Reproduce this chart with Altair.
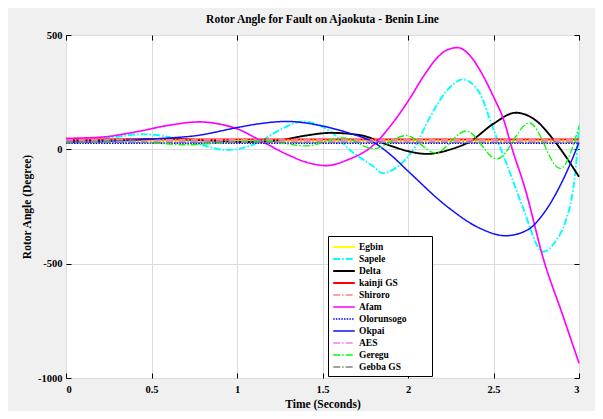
import altair as alt
import pandas as pd

# ---- data ----
names = ["Egbin", "Sapele", "Delta", "kainji GS", "Shiroro", "Afam",
         "Olorunsogo", "Okpai", "AES", "Geregu", "Gebba GS"]

egbin_t = [0, 3]
egbin_v = [38, 38]

sapele_t = [0, 0.2, 0.45, 0.7, 0.94, 1.13, 1.25, 1.38, 1.56, 1.66, 1.8, 1.85, 1.95, 2.03,
            2.13, 2.23, 2.32, 2.42, 2.48, 2.53, 2.6, 2.67, 2.79, 2.86, 2.92, 2.96, 2.985, 3.0]
sapele_v = [30, 45, 66, 40, -3, 32, 85, 121, 71, -3, -76, -104, -69, -3,
            143, 259, 306, 245, 128, 27, -110, -251, -448, -405, -317, -200, -50, 105]

delta_t = [0, 0.3, 0.6, 0.85, 1.05, 1.25, 1.4, 1.55, 1.72, 1.9, 2.0, 2.11, 2.25, 2.36,
           2.5, 2.63, 2.75, 2.86, 3.0]
delta_v = [36, 42, 45, 38, 32, 40, 60, 72, 62, 15, -8, -20, 0, 33,
           112, 160, 125, 33, -120]

kainji_t = [0, 3]
kainji_v = [44, 44]

shiroro_t = [0, 3]
shiroro_v = [41, 41]

afam_t = [0, 0.2, 0.4, 0.6, 0.78, 0.9, 1.0, 1.15, 1.3, 1.4, 1.52, 1.65, 1.8, 1.9, 2.0,
          2.1, 2.17, 2.23, 2.29, 2.35, 2.42, 2.5, 2.56, 2.61, 2.68, 2.8, 2.9, 3.0]
afam_v = [48, 53, 75, 105, 120, 110, 90, 33, -25, -55, -71, -45, 20, 105, 210,
          330, 400, 435, 445, 420, 347, 230, 128, 0, -160, -500, -715, -935]

olorunsogo_t = [0, 3]
olorunsogo_v = [27, 27]

okpai_t = [0, 0.25, 0.5, 0.78, 1.0, 1.13, 1.29, 1.5, 1.66, 1.8, 1.9, 2.0, 2.23, 2.42,
           2.57, 2.7, 2.8, 2.92, 3.0]
okpai_v = [29, 35, 45, 62, 95, 112, 122, 102, 70, 30, -25, -95, -251, -345,
           -378, -352, -273, -112, 30]

aes_t = [0, 3]
aes_v = [36, 36]

geregu_t = [0, 0.2, 0.45, 0.7, 0.95, 1.15, 1.4, 1.62, 1.8, 1.99, 2.16, 2.34, 2.52,
            2.71, 2.89, 3.0]
geregu_v = [28, 32, 30, 20, 30, 38, 15, 50, 3, 60, -15, 80, -42, 115, -84, 100]

gebba_t = [0, 3]
gebba_v = [30, 30]

x_ticks = [0, 0.5, 1, 1.5, 2, 2.5, 3]
y_ticks = [-1000, -500, 0, 500]

series = [
    ("Egbin", egbin_t, egbin_v), ("Sapele", sapele_t, sapele_v),
    ("Delta", delta_t, delta_v), ("kainji GS", kainji_t, kainji_v),
    ("Shiroro", shiroro_t, shiroro_v), ("Afam", afam_t, afam_v),
    ("Olorunsogo", olorunsogo_t, olorunsogo_v), ("Okpai", okpai_t, okpai_v),
    ("AES", aes_t, aes_v), ("Geregu", geregu_t, geregu_v),
    ("Gebba GS", gebba_t, gebba_v),
]

rows = []
for name, ts, vs in series:
    for t, v in zip(ts, vs):
        rows.append({"series": name, "t": t, "v": v})
df = pd.DataFrame(rows)

# ---- styles ----
colors = ["#ffff00", "#00ffff", "#000000", "#ff0000", "#ff8080", "#ff00ff",
          "#0000ff", "#1010ff", "#ee82ee", "#00ff00", "#808080"]
dashdot = [7, 2, 1.5, 2]
dashes = [[1, 0], dashdot, [1, 0], [1, 0], dashdot, [1, 0],
          [1.5, 1.2], [1, 0], dashdot, dashdot, dashdot]
widths = [2, 1.3, 1.2, 1.5, 1.2, 1.3, 3, 1.3, 1.2, 1.3, 1.2]

FONT = "Liberation Serif"
PAD = "\u2800" * 3

leg = alt.Legend(
    title=None, orient="none", legendX=262, legendY=201,
    fillColor="white", strokeColor="black", padding=4,
    symbolType="M-1.8,0H1.8", symbolSize=144, symbolStrokeWidth=1.5,
    symbolOffset=5,
    labelFont=FONT, labelFontWeight="bold", labelFontSize=9.5,
    labelColor="black", labelOffset=8, rowPadding=0, labelLimit=300,
    labelExpr="datum.label + '" + PAD + "'",
)

xscale = alt.Scale(domain=[0, 3], nice=False)
yscale = alt.Scale(domain=[-1000, 500], nice=False)

lines = alt.Chart(df).mark_line(interpolate="monotone").encode(
    x=alt.X("t:Q", scale=xscale, axis=alt.Axis(
        orient="bottom", values=x_ticks, title="Time (Seconds)", grid=True,
        ticks=False, domain=False, labelPadding=6, titlePadding=4,
        labelExpr="datum.value + ''")),
    y=alt.Y("v:Q", scale=yscale, axis=alt.Axis(
        orient="left", values=y_ticks, title="Rotor Angle (Degree)", grid=True,
        ticks=False, domain=False, labelPadding=4, titlePadding=5,
        labelExpr="datum.value + ''")),
    color=alt.Color("series:N", scale=alt.Scale(domain=names, range=colors), legend=leg),
    strokeDash=alt.StrokeDash("series:N", scale=alt.Scale(domain=names, range=dashes), legend=leg),
    strokeWidth=alt.StrokeWidth("series:N", scale=alt.Scale(domain=names, range=widths), legend=None),
    detail="series:N",
)

ticks_bl = alt.Chart(df).mark_point(opacity=0).encode(
    x=alt.X("t:Q", scale=xscale, axis=alt.Axis(orient="bottom", offset=-5, tickSize=5, labels=False,
            domain=False, grid=False, title=None, tickColor="black", values=x_ticks)),
    y=alt.Y("v:Q", scale=yscale, axis=alt.Axis(orient="left", offset=-5, tickSize=5, labels=False,
            domain=False, grid=False, title=None, tickColor="black", values=y_ticks)),
)
ticks_tr = alt.Chart(df).mark_point(opacity=0).encode(
    x=alt.X("t:Q", scale=xscale, axis=alt.Axis(orient="top", offset=-5, tickSize=5, labels=False,
            domain=False, grid=False, title=None, tickColor="black", values=x_ticks)),
    y=alt.Y("v:Q", scale=yscale, axis=alt.Axis(orient="right", offset=-5, tickSize=5, labels=False,
            domain=False, grid=False, title=None, tickColor="black", values=y_ticks)),
)

chart = alt.layer(lines, ticks_bl, ticks_tr).resolve_axis(
    x="independent", y="independent"
).properties(
    width=513, height=343,
    title=alt.Title("Rotor Angle for Fault on Ajaokuta - Benin Line", font=FONT,
                    fontSize=11.5, fontWeight="bold", color="black", frame="group",
                    anchor="middle", offset=5),
    autosize=alt.AutoSizeParams(type="none"),
    padding={"left": 58, "top": 27, "right": 16, "bottom": 33},
    background="#f0f0f0",
).configure_view(
    fill="white", stroke="black", strokeWidth=1,
).configure_axis(
    labelFont=FONT, labelFontWeight="bold", labelFontSize=10.5, labelColor="black",
    titleFont=FONT, titleFontWeight="bold", titleFontSize=11.5, titleColor="black",
    gridColor="#dcdcdc", gridWidth=1,
)

chart.save("out.html", embed_options={"renderer": "svg", "actions": False})
